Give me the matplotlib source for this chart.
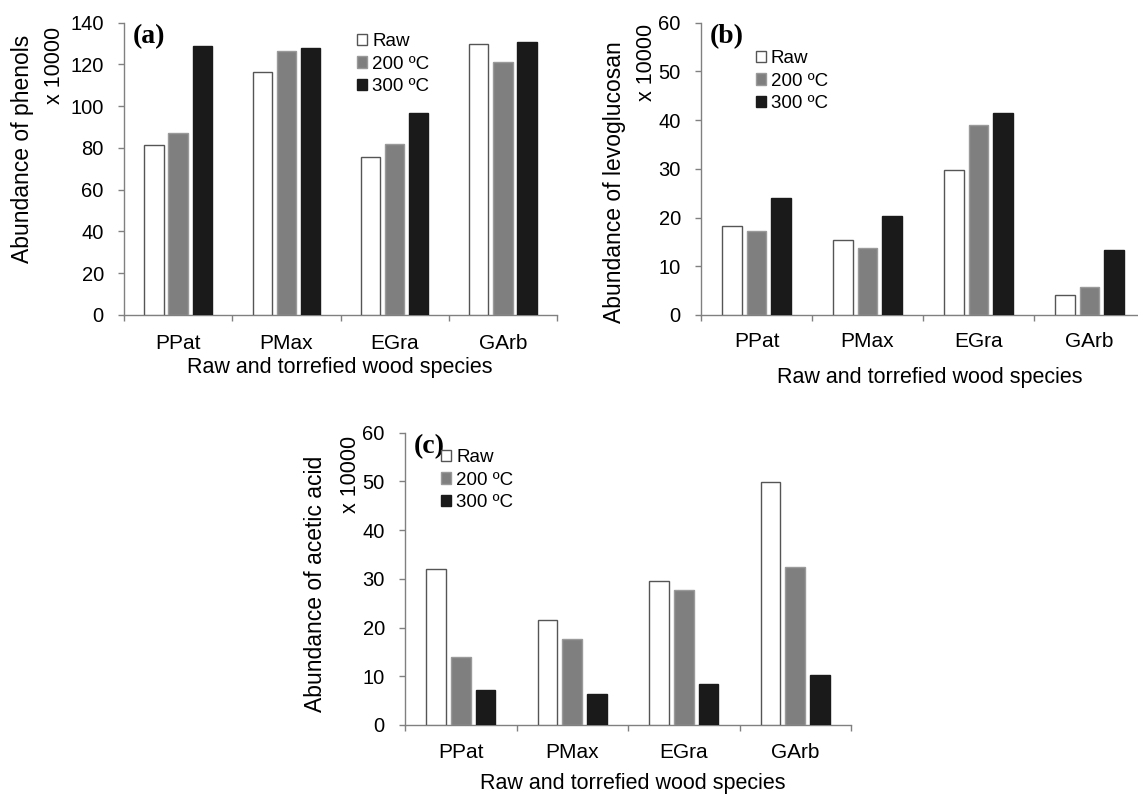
import matplotlib
matplotlib.use("Agg")
import matplotlib.pyplot as plt
from matplotlib.patches import Patch
import numpy as np

plt.rcParams['font.family'] = ['Liberation Sans', 'DejaVu Sans']

# data (units: x 10000)
species = ['PPat', 'PMax', 'EGra', 'GArb']
series_names = ['Raw', '200 ºC', '300 ºC']

phenols_raw = [81.6, 116.2, 75.8, 129.8]
phenols_200 = [87.2, 126.6, 81.7, 121.3]
phenols_300 = [129.0, 127.9, 96.7, 130.9]

levo_raw = [18.3, 15.3, 29.8, 4.2]
levo_200 = [17.2, 13.8, 38.9, 5.7]
levo_300 = [24.1, 20.4, 41.5, 13.3]

acetic_raw = [32.0, 21.6, 29.6, 49.9]
acetic_200 = [14.0, 17.6, 27.8, 32.4]
acetic_300 = [7.2, 6.4, 8.4, 10.3]

W, H = 1138, 797
fig = plt.figure(figsize=(W / 100, H / 100), dpi=100)

fills = ['white', '#7f7f7f', '#1a1a1a']
edges = ['#555555', '#9a9a9a', '#1a1a1a']
axis_col = '#808080'


def px_axes(left, right, top, bottom):
    return fig.add_axes([left / W, 1 - bottom / H, (right - left) / W, (bottom - top) / H])


def draw_panel(ax, series, ymax, ystep, tag, catpad):
    x = np.arange(len(species)) + 0.5
    step = 0.222
    width = 0.178
    for i, vals in enumerate(series):
        ax.bar(x + (i - 1) * step, vals, width, color=fills[i],
               edgecolor=edges[i], linewidth=1.0, zorder=3)
    ax.set_xlim(0, len(species))
    ax.set_ylim(0, ymax)
    ax.set_yticks(np.arange(0, ymax + 1, ystep))
    ax.set_xticks(np.arange(len(species) + 1))
    ax.set_xticklabels([])
    ax.set_xticks(x, minor=True)
    ax.set_xticklabels(species, minor=True, fontsize=15)
    ax.tick_params(axis='x', which='major', direction='out', length=4,
                   color=axis_col, width=1)
    ax.tick_params(axis='x', which='minor', length=0, pad=catpad)
    ax.tick_params(axis='y', direction='out', length=4.5, color=axis_col,
                   width=1, labelsize=14.5, pad=10)
    for s in ['top', 'right']:
        ax.spines[s].set_visible(False)
    for s in ['left', 'bottom']:
        ax.spines[s].set_color(axis_col)
        ax.spines[s].set_linewidth(1)
    ax.text(0.02, 0.995, tag, transform=ax.transAxes, ha='left', va='top',
            fontsize=20, fontweight='bold', family='Liberation Serif')


def xlabel_at(cx, cy):
    fig.text(cx / W, 1 - cy / H, 'Raw and torrefied wood species',
             ha='center', va='center', fontsize=15.5)


def add_legend(ax, left, top):
    handles = [Patch(facecolor=fills[i], edgecolor=edges[i], linewidth=1.0)
               for i in range(3)]
    ax.legend(handles, series_names, loc='upper left',
              bbox_to_anchor=(left / W, 1 - top / H), bbox_transform=fig.transFigure,
              frameon=False, fontsize=13.5, handlelength=0.55, handleheight=0.55,
              handletextpad=0.25, labelspacing=0.3, borderpad=0, borderaxespad=0)


def ylabels(cx1, cy1, cx2, cy2, text):
    fig.text(cx1 / W, 1 - cy1 / H, text, rotation=90, ha='center', va='center',
             fontsize=16.5)
    fig.text(cx2 / W, 1 - cy2 / H, 'x 10000', rotation=90, ha='center',
             va='center', fontsize=15.5)


# (a) phenols
ax_a = px_axes(124, 557, 22.7, 315)
draw_panel(ax_a, [phenols_raw, phenols_200, phenols_300], 140, 20, '(a)', 13.5)
add_legend(ax_a, 357, 33)
ylabels(23, 149, 55, 65, 'Abundance of phenols')
xlabel_at(340, 367)

# (b) levoglucosan
ax_b = px_axes(701, 1145, 22.7, 315)
draw_panel(ax_b, [levo_raw, levo_200, levo_300], 60, 10, '(b)', 12.5)
add_legend(ax_b, 756, 50)
ylabels(614, 182, 647, 62, 'Abundance of levoglucosan')
xlabel_at(930, 378)

# (c) acetic acid
ax_c = px_axes(405, 851, 432.7, 725)
draw_panel(ax_c, [acetic_raw, acetic_200, acetic_300], 60, 10, '(c)', 13)
add_legend(ax_c, 441, 449)
ylabels(316, 584, 350, 474, 'Abundance of acetic acid')
xlabel_at(633, 783)

fig.savefig('out.png', dpi=100)
